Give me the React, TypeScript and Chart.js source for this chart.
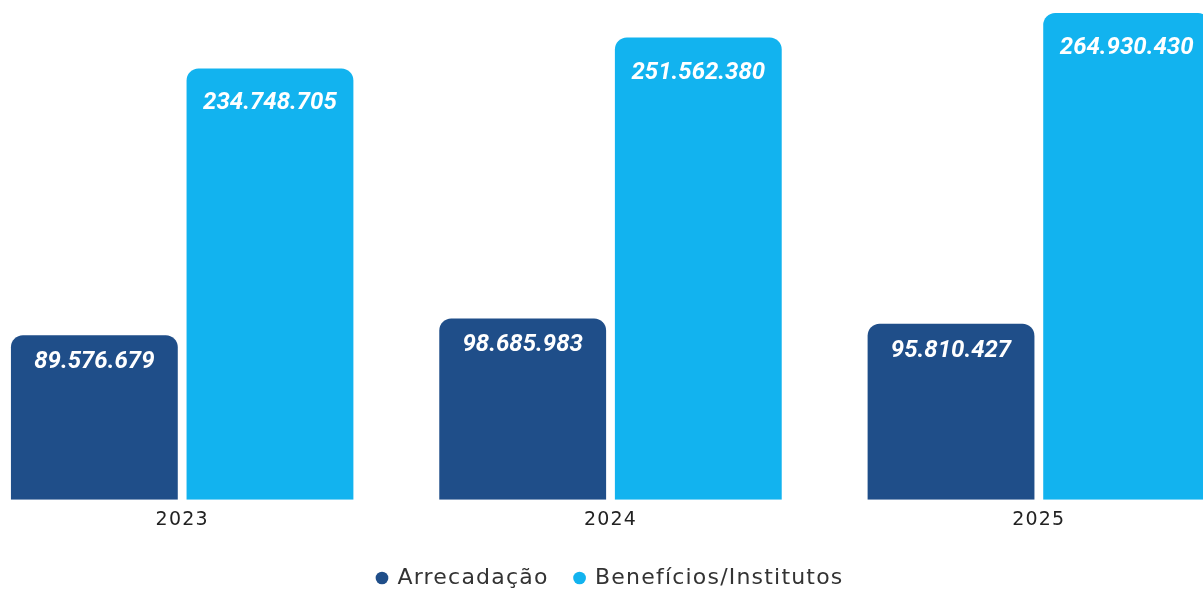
import React, { useEffect, useRef } from "react";
import { Chart, registerables } from "chart.js";

Chart.register(...registerables);

const categories = ["2023", "2024", "2025"];
const arrecadacao = [89576679, 98685983, 95810427];
const beneficios = [234748705, 251562380, 264930430];
const seriesNames = ["Arrecadação", "Benefícios/Institutos"];
const seriesColors = ["#1f4e89", "#12b3ef"];

const fmt = (v: number) => v.toLocaleString("de-DE");

const spacing = {
  id: "spacing",
  beforeLayout(chart: any) {
    chart.ctx.letterSpacing = "1.2px";
  },
  beforeDraw(chart: any) {
    chart.ctx.letterSpacing = "1.2px";
  },
};

const valueLabels = {
  id: "valueLabels",
  afterDatasetsDraw(chart: any) {
    const ctx = chart.ctx;
    ctx.save();
    ctx.letterSpacing = "0px";
    ctx.fillStyle = "#ffffff";
    ctx.font = "italic bold 24px Roboto, sans-serif";
    ctx.textAlign = "center";
    ctx.textBaseline = "middle";
    chart.data.datasets.forEach((ds: any, di: number) => {
      const meta = chart.getDatasetMeta(di);
      const off = di === 0 ? 27 : 35;
      meta.data.forEach((bar: any, i: number) => {
        ctx.fillText(fmt(ds.data[i]), bar.x, bar.y + off);
      });
    });
    ctx.restore();
  },
};

export default function App() {
  const ref = useRef<HTMLCanvasElement | null>(null);
  useEffect(() => {
    if (!ref.current) return;
    const chart = new Chart(ref.current, {
      type: "bar",
      data: {
        labels: categories,
        datasets: [
          {
            label: seriesNames[0],
            data: arrecadacao,
            backgroundColor: seriesColors[0],
            borderRadius: 12,
            categoryPercentage: 0.82,
            barPercentage: 0.95,
          },
          {
            label: seriesNames[1],
            data: beneficios,
            backgroundColor: seriesColors[1],
            borderRadius: 12,
            categoryPercentage: 0.82,
            barPercentage: 0.95,
          },
        ],
      },
      options: {
        animation: false,
        responsive: false,
        maintainAspectRatio: false,
        layout: { padding: 0 },
        plugins: {
          tooltip: { enabled: false },
          legend: {
            position: "bottom",
            labels: {
              usePointStyle: true,
              pointStyle: "circle",
              boxWidth: 9,
              boxHeight: 9,
              padding: 26.5,
              color: "#333333",
              font: { family: "'DejaVu Sans', sans-serif", size: 22 },
            },
          },
        },
        scales: {
          x: {
            grid: { display: false, drawTicks: false },
            border: { display: false },
            ticks: {
              color: "#222222",
              padding: 9,
              font: { family: "'DejaVu Sans', sans-serif", size: 19 },
            },
          },
          y: {
            display: false,
            min: 0,
            max: 272000000,
          },
        },
      },
      plugins: [spacing, valueLabels],
    });
    return () => chart.destroy();
  }, []);
  return (
    <div style={{ position: "fixed", left: 0, top: 0, width: "100vw", height: "100vh", overflow: "hidden", background: "#fff" }}>
      <canvas
        ref={ref}
        width={1285}
        height={599}
        style={{ position: "absolute", left: -32, top: 0, width: 1285, height: 599 }}
      />
    </div>
  );
}
